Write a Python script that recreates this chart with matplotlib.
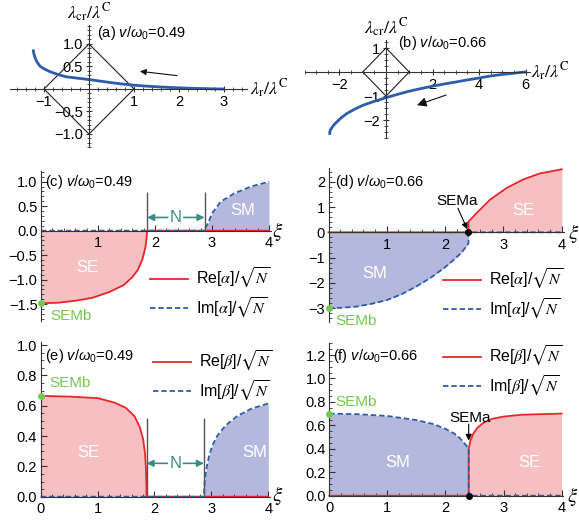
import matplotlib
matplotlib.use("Agg")
import matplotlib.pyplot as plt
from matplotlib.lines import Line2D
from matplotlib.font_manager import FontProperties
from matplotlib.ticker import MultipleLocator, FixedLocator, FixedFormatter

plt.rcParams['font.family'] = ['Liberation Sans', 'DejaVu Sans']
plt.rcParams['axes.unicode_minus'] = True
plt.rcParams['mathtext.fontset'] = 'custom'
plt.rcParams['mathtext.rm'] = 'Liberation Sans'
plt.rcParams['mathtext.it'] = 'Liberation Sans:italic'
plt.rcParams['mathtext.bf'] = 'Liberation Sans:bold'

# ---------------- data ----------------
# (a) trajectory, v/w0 = 0.49
a_x = [-1.24, -1.23, -1.2, -1.16, -1.12, -1.08, -1.0, -0.9, -0.8, -0.65, -0.5, -0.25, 0.0,
       0.25, 0.5, 0.75, 1.0, 1.25, 1.5, 1.75, 2.0, 2.25, 2.5, 2.75, 3.0]
a_y = [0.88, 0.80, 0.70, 0.61, 0.55, 0.50, 0.45, 0.40, 0.36, 0.31, 0.27, 0.24, 0.21,
       0.175, 0.14, 0.11, 0.085, 0.065, 0.05, 0.037, 0.025, 0.017, 0.01, 0.004, 0.0]
# (b) trajectory, v/w0 = 0.66
b_x = [6.0, 5.75, 5.5, 5.0, 4.47, 4.0, 3.5, 3.04, 2.5, 2.0, 1.5, 1.0, 0.5, 0.0, -0.5, -1.0,
       -1.35, -1.7, -1.95, -2.2, -2.3, -2.38, -2.42, -2.42]
b_y = [0.0, -0.02, -0.05, -0.1, -0.17, -0.25, -0.33, -0.41, -0.5, -0.59, -0.69, -0.8, -0.93,
       -1.07, -1.22, -1.39, -1.55, -1.74, -1.93, -2.16, -2.28, -2.4, -2.5, -2.56]
# diamond |x|+|y|=1
dia_x = [1, 0, -1, 0, 1]
dia_y = [0, 1, 0, -1, 0]

a_xticks = [-1, 1, 2, 3]
a_xlabels = ['−1', '1', '2', '3']
a_yticks = [-1.0, -0.5, 0.5, 1.0]
a_ylabels = ['−1.0', '−0.5', '0.5', '1.0']
b_xticks = [-2, 2, 4, 6]
b_xlabels = ['−2', '2', '4', '6']
b_yticks = [-2, -1, 1]
b_ylabels = ['−2', '−1', '1']

# (c) alpha, v/w0 = 0.49
c_re_x = [0, 0.3, 0.6, 0.9, 1.2, 1.45, 1.6, 1.7, 1.78, 1.83, 1.855, 1.86, 4.0]
c_re_y = [-1.48, -1.47, -1.43, -1.37, -1.25, -1.11, -0.95, -0.80, -0.58, -0.35, -0.12, 0.0, 0.0]
c_im_x = [0, 2.87, 2.88, 2.93, 3.0, 3.15, 3.39, 3.68, 4.0]
c_im_y = [0, 0.0, 0.05, 0.15, 0.35, 0.59, 0.76, 0.90, 1.0]
# (d) alpha, v/w0 = 0.66
d_re_x = [0, 2.4, 2.4, 2.54, 2.77, 3.06, 3.34, 3.63, 4.0]
d_re_y = [0, 0.0, 0.42, 0.76, 1.29, 1.76, 2.09, 2.33, 2.49]
d_im_x = [0, 0.25, 0.5, 0.75, 1.0, 1.25, 1.5, 1.75, 2.0, 2.2, 2.3, 2.4, 2.4, 4.0]
d_im_y = [-3.0, -2.98, -2.93, -2.82, -2.68, -2.45, -2.15, -1.8, -1.38, -0.98, -0.75, -0.44, 0.0, 0.0]
# (e) beta, v/w0 = 0.49
e_re_x = [0, 0.5, 1.0, 1.3, 1.5, 1.65, 1.74, 1.8, 1.835, 1.85, 1.858, 1.86, 4.0]
e_re_y = [0.665, 0.66, 0.65, 0.62, 0.585, 0.53, 0.46, 0.38, 0.28, 0.18, 0.08, 0.0, 0.0]
e_im_x = [0, 2.87, 2.875, 2.89, 2.92, 2.96, 3.02, 3.1, 3.25, 3.45, 3.7, 4.0]
e_im_y = [0, 0.0, 0.06, 0.13, 0.2, 0.27, 0.34, 0.4, 0.47, 0.53, 0.58, 0.615]
# (f) beta, v/w0 = 0.66
f_re_x = [0, 2.4, 2.4, 2.43, 2.48, 2.55, 2.65, 2.8, 3.0, 3.3, 3.6, 4.0]
f_re_y = [0, 0.0, 0.40, 0.47, 0.53, 0.58, 0.62, 0.655, 0.675, 0.69, 0.695, 0.70]
f_im_x = [0, 0.5, 1.0, 1.5, 1.8, 2.0, 2.15, 2.25, 2.32, 2.37, 2.4, 2.4, 4.0]
f_im_y = [0.70, 0.695, 0.68, 0.645, 0.61, 0.57, 0.53, 0.49, 0.45, 0.42, 0.40, 0.0, 0.0]

xi_c1, xi_c2 = 1.86, 2.87      # N-phase boundaries for v/w0=0.49
xi_a = 2.4                      # SEMa for v/w0=0.66

# ---------------- style ----------------
RED = '#e8262a'
BLUE = '#2c5dab'
PINK = '#f6bfc1'
LAV = '#b4b8dc'
GREEN = '#74c850'
TEAL = '#3f8c87'
AXC = '#333333'
TS = 10.5

W, H = 579, 523
fig = plt.figure(figsize=(W / 100, H / 100), dpi=100)


def rect(l, r, t, b):
    return [l / W, 1 - b / H, (r - l) / W, (b - t) / H]


def origin_axes(ax):
    for s in ['top', 'right']:
        ax.spines[s].set_visible(False)
    for s in ['left', 'bottom']:
        ax.spines[s].set_position(('data', 0))
        ax.spines[s].set_color(AXC)
        ax.spines[s].set_linewidth(0.8)
    ax.patch.set_alpha(0)
    ax.tick_params(which='both', direction='inout', color=AXC, labelsize=TS, pad=2)
    ax.tick_params(which='major', length=5, width=0.8)
    ax.tick_params(which='minor', length=3, width=0.6)


def frame_axes(ax):
    for s in ['top', 'right']:
        ax.spines[s].set_visible(False)
    ax.spines['bottom'].set_position(('data', 0))
    for s in ['left', 'bottom']:
        ax.spines[s].set_color(AXC)
        ax.spines[s].set_linewidth(0.8)
    ax.patch.set_alpha(0)
    ax.tick_params(which='both', direction='in', color=AXC, labelsize=TS)
    ax.tick_params(axis='x', pad=4)
    ax.tick_params(axis='y', pad=2.5)
    ax.tick_params(which='major', length=4, width=0.8)
    ax.tick_params(which='minor', length=2, width=0.6)


mathsans = dict(math_fontfamily='custom')
lamfont = dict(math_fontfamily='stix', fontsize=13)

# ---- (a) ----
ax = fig.add_axes(rect(10.25, 246.5, 24.65, 147.5))
origin_axes(ax)
ax.set_xlim(-1.75, 3.5)
ax.set_ylim(-1.3, 1.43)
ax.plot(dia_x, dia_y, color='#222222', lw=0.8)
ax.plot(a_x, a_y, color=BLUE, lw=2.0, solid_capstyle='butt')
ax.xaxis.set_major_locator(FixedLocator(a_xticks))
ax.xaxis.set_major_formatter(FixedFormatter(a_xlabels))
ax.yaxis.set_major_locator(FixedLocator(a_yticks))
ax.yaxis.set_major_formatter(FixedFormatter(a_ylabels))
ax.xaxis.set_minor_locator(MultipleLocator(0.2))
ax.yaxis.set_minor_locator(MultipleLocator(0.1))
ax.annotate('', xy=(1.07, 0.40), xytext=(2.02, 0.29),
            arrowprops=dict(arrowstyle='-|>', color='#111111', lw=0.8, mutation_scale=9))
ax.text(0.18, 1.24, r'(a) $v/\omega_0$=0.49', fontsize=TS, va='center', ha='left', **mathsans)
ax.text(0, 1.69, r'$\lambda_{\mathrm{cr}}/\lambda^{\mathrm{C}}$', ha='center', va='center', clip_on=False, **lamfont)
ax.text(3.58, 0.0, r'$\lambda_{\mathrm{r}}/\lambda^{\mathrm{C}}$', ha='left', va='center', clip_on=False, **lamfont)

# ---- (b) ----
ax = fig.add_axes(rect(304.6, 530.2, 39.6, 138))
origin_axes(ax)
ax.set_xlim(-3.5, 6.2)
ax.set_ylim(-2.75, 1.35)
ax.plot(dia_x, dia_y, color='#222222', lw=0.8)
ax.plot(b_x, b_y, color=BLUE, lw=2.0)
ax.xaxis.set_major_locator(FixedLocator(b_xticks))
ax.xaxis.set_major_formatter(FixedFormatter(b_xlabels))
ax.yaxis.set_major_locator(FixedLocator(b_yticks))
ax.yaxis.set_major_formatter(FixedFormatter(b_ylabels))
ax.xaxis.set_minor_locator(MultipleLocator(0.5))
ax.yaxis.set_minor_locator(MultipleLocator(0.25))
ax.annotate('', xy=(1.22, -1.42), xytext=(2.7, -0.92),
            arrowprops=dict(arrowstyle='-|>', color='#111111', lw=0.8, mutation_scale=14))
ax.text(0.52, 1.2, r'(b) $v/\omega_0$=0.66', fontsize=TS, va='center', ha='left', **mathsans)
ax.text(0, 1.85, r'$\lambda_{\mathrm{cr}}/\lambda^{\mathrm{C}}$', ha='center', va='center', clip_on=False, **lamfont)
ax.text(6.25, 0.0, r'$\lambda_{\mathrm{r}}/\lambda^{\mathrm{C}}$', ha='left', va='center', clip_on=False, **lamfont)

legfont = FontProperties(family=['Liberation Sans', 'DejaVu Sans'], size=11.5, math_fontfamily='stix')


def add_legend(ax, labels, left_px, top_px):
    h = [Line2D([], [], color=RED, lw=1.3),
         Line2D([], [], color=BLUE, lw=1.3, ls=(0, (3, 1.6)))]
    ax.legend(h, labels, loc='upper left', bbox_to_anchor=(left_px / W, 1 - top_px / H),
              bbox_transform=fig.transFigure, frameon=False, prop=legfont,
              handlelength=2.4, handletextpad=0.5, labelspacing=0.35,
              borderpad=0, borderaxespad=0)


def nmark(ax, x1, x2, ytop, yn):
    ax.vlines([x1, x2], 0, ytop, color='#555555', lw=1.0)
    xm = 0.5 * (x1 + x2)
    ax.text(xm, yn, 'N', color=TEAL, fontsize=12, ha='center', va='center')
    ax.annotate('', xy=(x1, yn), xytext=(xm - 0.14, yn),
                arrowprops=dict(arrowstyle='-|>', color=TEAL, lw=1.2, mutation_scale=10, shrinkA=0, shrinkB=0))
    ax.annotate('', xy=(x2, yn), xytext=(xm + 0.14, yn),
                arrowprops=dict(arrowstyle='-|>', color=TEAL, lw=1.2, mutation_scale=10, shrinkA=0, shrinkB=0))


alpha_labels = [r'Re[$\alpha$]/$\sqrt{N}$', r'Im[$\alpha$]/$\sqrt{N}$']
beta_labels = [r'Re[$\beta$]/$\sqrt{N}$', r'Im[$\beta$]/$\sqrt{N}$']
xifont = dict(math_fontfamily='stix', fontsize=15)
dash = (0, (3, 1.6))

# ---- (c) ----
ax = fig.add_axes(rect(41, 270.7, 170.9, 321.35))
frame_axes(ax)
ax.set_xlim(0, 4.03)
ax.set_ylim(-1.85, 1.22)
ax.fill_between(c_re_x, c_re_y, 0, color=PINK, lw=0)
ax.fill_between(c_im_x, c_im_y, 0, color=LAV, lw=0)
ax.plot(c_re_x, c_re_y, color=RED, lw=1.3, clip_on=False)
ax.plot(c_im_x, c_im_y, color=BLUE, lw=1.3, ls=dash, clip_on=False)
nmark(ax, xi_c1, xi_c2, 0.79, 0.27)
ax.set_xticks([1, 2, 3, 4])
ax.set_yticks([-1.5, -1.0, -0.5, 0.0, 0.5, 1.0])
ax.set_yticklabels(['−1.5', '−1.0', '−0.5', '0.0', '0.5', '1.0'])
ax.xaxis.set_minor_locator(MultipleLocator(0.2))
ax.yaxis.set_minor_locator(MultipleLocator(0.1))
ax.text(0.82, -0.76, 'SE', color='white', fontsize=12, ha='center', va='center')
ax.text(3.54, 0.42, 'SM', color='white', fontsize=12, ha='center', va='center')
ax.plot([0], [c_re_y[0]], 'o', color=GREEN, ms=4, clip_on=False, zorder=5)
ax.text(0.16, -1.75, 'SEMb', color=GREEN, fontsize=11, ha='left', va='center', clip_on=False)
ax.text(0.07, 1.0, r'(c) $v/\omega_0$=0.49', fontsize=TS, ha='left', va='center', **mathsans)
ax.text(4.16, -0.02, r'$\xi$', ha='center', va='center', clip_on=False, **xifont)
add_legend(ax, alpha_labels, 150, 266)

# ---- (d) ----
ax = fig.add_axes(rect(328.5, 563.5, 167.8, 322.1))
frame_axes(ax)
ax.set_xlim(0, 4.03)
ax.set_ylim(-3.55, 2.55)
ax.fill_between(d_re_x, d_re_y, 0, color=PINK, lw=0)
ax.fill_between(d_im_x, d_im_y, 0, color=LAV, lw=0)
ax.plot(d_im_x, d_im_y, color=BLUE, lw=1.3, ls=dash, clip_on=False)
ax.plot(d_re_x, d_re_y, color=RED, lw=1.3, clip_on=False)
ax.set_xticks([1, 2, 3, 4])
ax.set_yticks([-3, -2, -1, 0, 1, 2])
ax.set_yticklabels(['−3', '−2', '−1', '0', '1', '2'])
ax.xaxis.set_minor_locator(MultipleLocator(0.2))
ax.yaxis.set_minor_locator(MultipleLocator(0.2))
ax.text(3.34, 0.88, 'SE', color='white', fontsize=12, ha='center', va='center')
ax.text(0.8, -1.61, 'SM', color='white', fontsize=12, ha='center', va='center')
ax.plot([0], [d_im_y[0]], 'o', color=GREEN, ms=4, clip_on=False, zorder=5)
ax.text(0.11, -3.5, 'SEMb', color=GREEN, fontsize=11, ha='left', va='center', clip_on=False)
ax.plot([xi_a], [0], 'o', color='black', ms=4, zorder=6)
ax.text(2.2, 1.25, 'SEMa', fontsize=11, ha='center', va='center')
ax.annotate('', xy=(xi_a - 0.02, 0.12), xytext=(2.22, 0.95),
            arrowprops=dict(arrowstyle='-|>', color='black', lw=0.8, mutation_scale=9, shrinkA=0, shrinkB=0))
ax.text(0.11, 2.0, r'(d) $v/\omega_0$=0.66', fontsize=TS, ha='left', va='center', **mathsans)
ax.text(4.2, -0.05, r'$\xi$', ha='center', va='center', clip_on=False, **xifont)
add_legend(ax, alpha_labels, 443, 267)

# ---- (e) ----
ax = fig.add_axes(rect(40.7, 270, 342, 496.7))
frame_axes(ax)
ax.set_xlim(0, 4.03)
ax.set_ylim(0, 1.02)
ax.fill_between(e_re_x, e_re_y, 0, color=PINK, lw=0)
ax.fill_between(e_im_x, e_im_y, 0, color=LAV, lw=0)
ax.plot(e_re_x, e_re_y, color=RED, lw=1.3, clip_on=False)
ax.plot(e_im_x, e_im_y, color=BLUE, lw=1.3, ls=dash, clip_on=False)
nmark(ax, xi_c1, xi_c2, 0.52, 0.22)
ax.set_xticks([0, 1, 2, 3, 4])
ax.set_yticks([0.0, 0.2, 0.4, 0.6, 0.8, 1.0])
ax.set_yticklabels(['0.0', '0.2', '0.4', '0.6', '0.8', '1.0'])
ax.xaxis.set_minor_locator(MultipleLocator(0.2))
ax.yaxis.set_minor_locator(MultipleLocator(0.05))
ax.text(0.83, 0.29, 'SE', color='white', fontsize=12, ha='center', va='center')
ax.text(3.77, 0.29, 'SM', color='white', fontsize=12, ha='center', va='center')
ax.plot([0], [e_re_y[0]], 'o', color=GREEN, ms=4, clip_on=False, zorder=5)
ax.text(0.16, 0.75, 'SEMb', color=GREEN, fontsize=11, ha='left', va='center')
ax.text(0.076, 0.93, r'(e) $v/\omega_0$=0.49', fontsize=TS, ha='left', va='center', **mathsans)
ax.text(4.17, 0.01, r'$\xi$', ha='center', va='center', clip_on=False, **xifont)
add_legend(ax, beta_labels, 153, 349)

# ---- (f) ----
ax = fig.add_axes(rect(329.3, 563.4, 343.3, 495.7))
frame_axes(ax)
ax.set_xlim(0, 4.03)
ax.set_ylim(0, 1.3)
ax.fill_between(f_re_x, f_re_y, 0, color=PINK, lw=0)
ax.fill_between(f_im_x, f_im_y, 0, color=LAV, lw=0)
ax.plot(f_re_x, f_re_y, color=RED, lw=1.3, clip_on=False)
ax.plot(f_im_x, f_im_y, color=BLUE, lw=1.3, ls=dash, clip_on=False)
ax.set_xticks([0, 1, 2, 3, 4])
ax.set_yticks([0.0, 0.2, 0.4, 0.6, 0.8, 1.0, 1.2])
ax.set_yticklabels(['0.0', '0.2', '0.4', '0.6', '0.8', '1.0', '1.2'])
ax.xaxis.set_minor_locator(MultipleLocator(0.2))
ax.yaxis.set_minor_locator(MultipleLocator(0.05))
ax.text(1.18, 0.28, 'SM', color='white', fontsize=12, ha='center', va='center')
ax.text(3.45, 0.28, 'SE', color='white', fontsize=12, ha='center', va='center')
ax.plot([0], [f_im_y[0]], 'o', color=GREEN, ms=4, clip_on=False, zorder=5)
ax.text(0.1, 0.8, 'SEMb', color=GREEN, fontsize=11, ha='left', va='center')
ax.plot([xi_a], [0], 'o', color='black', ms=4, zorder=6, clip_on=False)
ax.text(2.42, 0.66, 'SEMa', fontsize=11, ha='center', va='center')
ax.annotate('', xy=(xi_a, 0.47), xytext=(xi_a, 0.61),
            arrowprops=dict(arrowstyle='-|>', color='black', lw=0.8, mutation_scale=9, shrinkA=0, shrinkB=0))
ax.text(0.06, 1.19, r'(f) $v/\omega_0$=0.66', fontsize=TS, ha='left', va='center', **mathsans)
ax.text(4.19, -0.01, r'$\xi$', ha='center', va='center', clip_on=False, **xifont)
add_legend(ax, beta_labels, 443, 344)

fig.savefig('out.png', dpi=100)
